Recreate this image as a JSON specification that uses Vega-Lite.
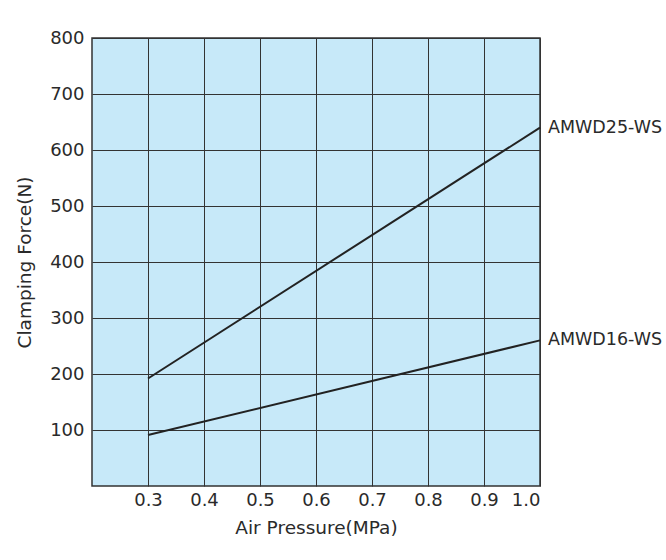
{
  "$schema": "https://vega.github.io/schema/vega-lite/v6.json",
  "width": 448,
  "height": 448,
  "autosize": {"type": "none"},
  "padding": {"left": 92, "top": 38, "right": 126, "bottom": 74},
  "background": "#ffffff",
  "data": {
    "values": [
      {"model": "AMWD25-WS", "pressure": 0.3, "force": 192},
      {"model": "AMWD25-WS", "pressure": 1.0, "force": 640},
      {"model": "AMWD16-WS", "pressure": 0.3, "force": 91},
      {"model": "AMWD16-WS", "pressure": 1.0, "force": 260}
    ]
  },
  "layer": [
    {
      "mark": {"type": "line", "color": "#222222", "strokeWidth": 2, "clip": false},
      "encoding": {
        "x": {
          "field": "pressure",
          "type": "quantitative",
          "scale": {"domain": [0.2, 1.0], "nice": false, "zero": false},
          "axis": {
            "title": "Air Pressure(MPa)",
            "values": [0.3, 0.4, 0.5, 0.6, 0.7, 0.8, 0.9, 1.0],
            "format": ".1f"
          }
        },
        "y": {
          "field": "force",
          "type": "quantitative",
          "scale": {"domain": [0, 800], "nice": false},
          "axis": {
            "title": "Clamping Force(N)",
            "values": [100, 200, 300, 400, 500, 600, 700, 800]
          }
        },
        "detail": {"field": "model"}
      }
    },
    {
      "transform": [{"filter": "datum.pressure == 1.0"}],
      "mark": {
        "type": "text",
        "align": "left",
        "baseline": "middle",
        "dx": 8,
        "font": "DejaVu Sans",
        "fontSize": 17.5,
        "color": "#2a2a2a",
        "clip": false
      },
      "encoding": {
        "x": {"field": "pressure", "type": "quantitative"},
        "y": {"field": "force", "type": "quantitative"},
        "text": {"field": "model"}
      }
    }
  ],
  "config": {
    "view": {"fill": "#c7e9f9", "stroke": "#333333", "strokeWidth": 1.5},
    "axis": {
      "domain": false,
      "ticks": false,
      "tickSize": 0,
      "grid": true,
      "gridColor": "#333333",
      "gridOpacity": 1,
      "gridWidth": 1,
      "labelFont": "DejaVu Sans",
      "labelFontSize": 18,
      "labelColor": "#2a2a2a",
      "titleFont": "DejaVu Sans",
      "titleFontSize": 18.5,
      "titleFontWeight": "normal",
      "titleColor": "#2a2a2a"
    },
    "axisX": {"labelPadding": 5, "titlePadding": 9},
    "axisY": {"labelPadding": 8, "titlePadding": 15}
  }
}
